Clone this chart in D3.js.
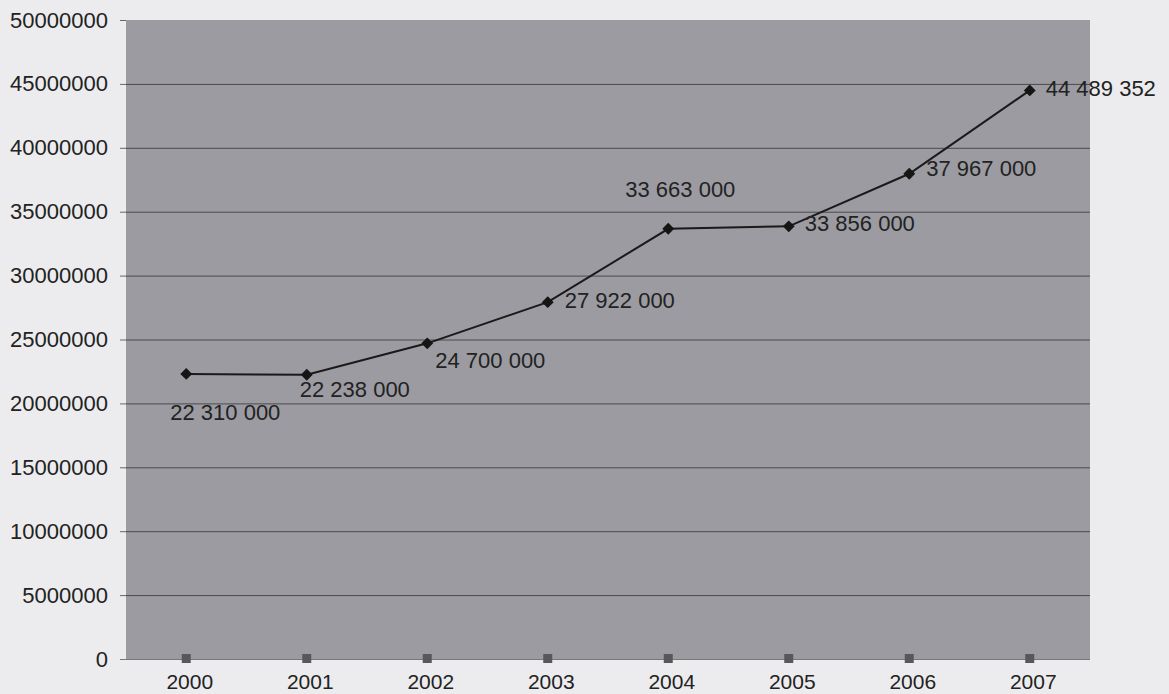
<!DOCTYPE html>
<html>
<head>
<meta charset="utf-8">
<script src="https://cdn.jsdelivr.net/npm/d3@7/dist/d3.min.js"></script>
<style>
  html, body { margin: 0; padding: 0; background: #ececee; }
  svg { display: block; }
  text { font-family: "Liberation Sans", Arial, sans-serif; fill: #222; }
</style>
</head>
<body>
<svg id="chart" width="1169" height="694"></svg>
<script>
// ---- data ----
const years = ["2000", "2001", "2002", "2003", "2004", "2005", "2006", "2007"];
const values = [22310000, 22238000, 24700000, 27922000, 33663000, 33856000, 37967000, 44489352];
const baseline = [0, 0, 0, 0, 0, 0, 0, 0];
const valueLabels = ["22 310 000", "22 238 000", "24 700 000", "27 922 000", "33 663 000", "33 856 000", "37 967 000", "44 489 352"];
const yTicks = [0, 5000000, 10000000, 15000000, 20000000, 25000000, 30000000, 35000000, 40000000, 45000000, 50000000];

// ---- layout (label placement offsets from each point) ----
const labelOffset = [[-16, 39], [-7, 15], [8, 17], [17, -2], [-43, -39], [16, -3], [17, -5], [16, -2]];

const svg = d3.select("#chart");
const pLeft = 126, pRight = 1090, pTop = 20, pBottom = 659;

const x = d3.scalePoint().domain(years).range([pLeft, pRight]).padding(0.5);
const y = d3.scaleLinear().domain([0, 50000000]).range([pBottom, pTop]);

// plot background
svg.append("rect")
  .attr("x", pLeft).attr("y", pTop)
  .attr("width", pRight - pLeft).attr("height", pBottom - pTop)
  .attr("fill", "#9b9ba1");

// gridlines
svg.append("g")
  .selectAll("line").data(yTicks.filter(d => d > 0 && d < 50000000)).join("line")
  .attr("x1", pLeft).attr("x2", pRight)
  .attr("y1", d => y(d) + 0.5).attr("y2", d => y(d) + 0.5)
  .attr("stroke", "#4a4a4e").attr("stroke-width", 1);

// y axis
const yAxis = d3.axisLeft(y).tickValues(yTicks).tickFormat(d3.format("d")).tickSize(6).tickPadding(12);
const gy = svg.append("g").attr("transform", `translate(${pLeft},0)`).call(yAxis);
gy.select(".domain").remove();
gy.selectAll(".tick line").attr("stroke", "#666");
gy.selectAll(".tick text").attr("font-size", 22).attr("fill", "#222")
  .attr("font-family", "Liberation Sans, Arial, sans-serif");

// x axis
const xAxis = d3.axisBottom(x).tickSize(0).tickPadding(0);
const gx = svg.append("g").attr("transform", `translate(0,${pBottom})`).call(xAxis);
gx.select(".domain").attr("stroke", "#777").attr("d", `M${pLeft - 6},0.5H${pRight}`);
gx.selectAll(".tick text").attr("font-size", 21).attr("fill", "#222")
  .attr("dx", 3)
  .attr("y", 30).attr("dy", null)
  .attr("font-family", "Liberation Sans, Arial, sans-serif");

// baseline series (squares)
svg.append("g").selectAll("rect").data(baseline).join("rect")
  .attr("x", (d, i) => x(years[i]) - 4.5)
  .attr("y", d => y(d) - 5)
  .attr("width", 9).attr("height", 9)
  .attr("fill", "#58585c");

// main line
const line = d3.line().x((d, i) => x(years[i])).y(d => y(d));
svg.append("path").datum(values)
  .attr("d", line)
  .attr("fill", "none")
  .attr("stroke", "#1a1a1a")
  .attr("stroke-width", 2);

// diamond markers
const diamond = d3.symbol().type(d3.symbolDiamond2).size(90);
svg.append("g").selectAll("path").data(values).join("path")
  .attr("d", diamond)
  .attr("transform", (d, i) => `translate(${x(years[i])},${y(d)})`)
  .attr("fill", "#151515");

// value labels
svg.append("g").selectAll("text").data(values).join("text")
  .attr("x", (d, i) => x(years[i]) + labelOffset[i][0])
  .attr("y", (d, i) => y(d) + labelOffset[i][1])
  .attr("dominant-baseline", "central")
  .attr("font-size", 22)
  .text((d, i) => valueLabels[i]);
</script>
</body>
</html>
